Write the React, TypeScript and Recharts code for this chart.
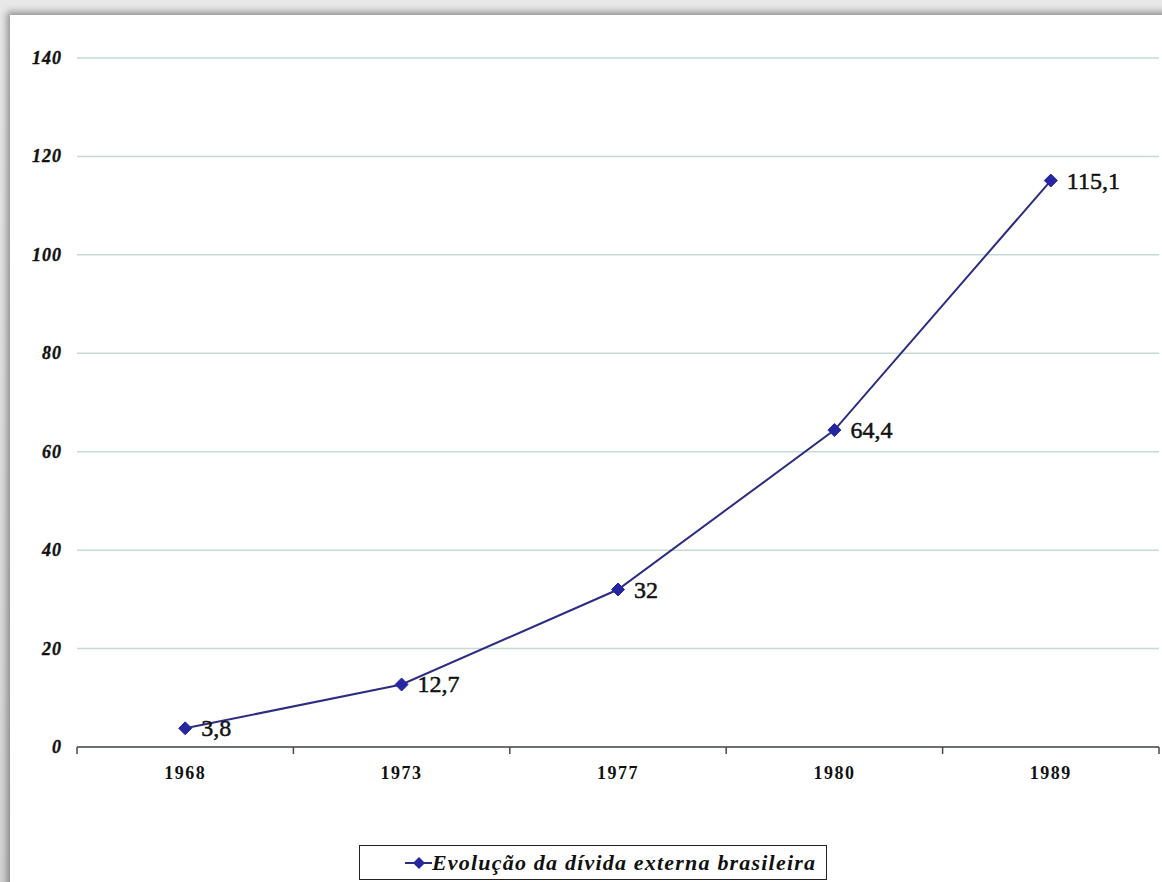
import React from 'react';
import { LineChart, Line, XAxis, YAxis, CartesianGrid, Legend, LabelList } from 'recharts';

// Brazilian external debt (US$ billions) by year
const years = ['1968', '1973', '1977', '1980', '1989'];
const debt = [3.8, 12.7, 32, 64.4, 115.1];
const yTicks = [0, 20, 40, 60, 80, 100, 120, 140];
const seriesName = 'Evolução da dívida externa brasileira';

const data = years.map((year, i) => ({ year, debt: debt[i] }));

const W = 1162;
const H = 882;
const MARGIN = { top: 58, right: 3, bottom: 75, left: 0 };
const Y_AXIS_W = 77;
const X_AXIS_H = 60;

const LINE_COLOR = '#2c2c82';
const MARKER_COLOR = '#2626a2';
const GRID_COLOR = '#c6dad6';
const AXIS_COLOR = '#4a4a4a';
const SERIF = 'Liberation Serif, "Times New Roman", Times, serif';

const bandWidth = (W - MARGIN.left - MARGIN.right - Y_AXIS_W) / years.length;

const fmt = (v: number) => String(v).replace('.', ',');

const Diamond = (props: any) => {
  const { cx, cy } = props;
  if (cx == null || cy == null) return null;
  const r = 6.5;
  return (
    <polygon
      points={`${cx},${cy - r} ${cx + r},${cy} ${cx},${cy + r} ${cx - r},${cy}`}
      fill={MARKER_COLOR}
      stroke={MARKER_COLOR}
      strokeWidth={1}
    />
  );
};

// Category ticks sit on the band boundaries, labels at the band centres
const XTick = (props: any) => {
  const { x, y, payload, index } = props;
  const half = bandWidth / 2;
  const axisY = y - 8;
  return (
    <g>
      <line x1={x - half} y1={axisY} x2={x - half} y2={axisY + 7} stroke={AXIS_COLOR} strokeWidth={1.5} />
      {index === years.length - 1 && (
        <line x1={x + half} y1={axisY} x2={x + half} y2={axisY + 7} stroke={AXIS_COLOR} strokeWidth={1.5} />
      )}
      <text
        x={x}
        y={axisY + 32}
        textAnchor="middle"
        style={{ fontFamily: SERIF, fontWeight: 'bold', fontSize: 18, letterSpacing: 1.5 }}
        fill="#111"
      >
        {payload.value}
      </text>
    </g>
  );
};

const YTick = (props: any) => {
  const { x, y, payload } = props;
  return (
    <text
      x={x}
      y={y}
      dy={6}
      textAnchor="end"
      style={{ fontFamily: SERIF, fontWeight: 'bold', fontStyle: 'italic', fontSize: 18, letterSpacing: 1 }}
      fill="#111"
      stroke="#111"
      strokeWidth={0.4}
    >
      {payload.value}
    </text>
  );
};

const ValueLabel = (props: any) => {
  const { x, y, value } = props;
  if (x == null || y == null) return null;
  return (
    <text
      x={x + 16}
      y={y}
      dy={8}
      style={{ fontFamily: SERIF, fontSize: 24 }}
      fill="#111"
      stroke="#111"
      strokeWidth={0.5}
    >
      {fmt(value)}
    </text>
  );
};

const LegendBox = () => (
  <div
    style={{
      width: 466,
      height: 33,
      border: '1px solid #222',
      background: '#fff',
      display: 'flex',
      alignItems: 'center',
      boxSizing: 'content-box',
    }}
  >
    <svg width={72} height={33} style={{ display: 'block' }}>
      <line x1={45} y1={17} x2={72} y2={17} stroke={LINE_COLOR} strokeWidth={2} />
      <polygon points="59,11 65,17 59,23 53,17" fill={MARKER_COLOR} />
    </svg>
    <span
      style={{
        fontFamily: SERIF,
        fontWeight: 'bold',
        fontStyle: 'italic',
        fontSize: 22,
        letterSpacing: 1.2,
        color: '#111',
        whiteSpace: 'nowrap',
      }}
    >
      {seriesName}
    </span>
  </div>
);

export default function App() {
  return (
    <div
      style={{
        position: 'absolute',
        left: 0,
        top: 0,
        width: W,
        height: H,
        background: 'linear-gradient(#e8e8e8, #d4d4d4)',
        overflow: 'hidden',
      }}
    >
      <div
        style={{
          position: 'absolute',
          left: 10,
          top: 15,
          width: W,
          height: H,
          background: '#fff',
          boxShadow: '-3px -3px 7px rgba(0,0,0,0.38)',
        }}
      />
      <div style={{ position: 'absolute', left: 0, top: 0 }}>
        <LineChart width={W} height={H} data={data} margin={MARGIN}>
          <CartesianGrid vertical={false} stroke={GRID_COLOR} strokeWidth={1.5} />
          <XAxis
            dataKey="year"
            height={X_AXIS_H}
            padding={{ left: bandWidth / 2, right: bandWidth / 2 }}
            axisLine={{ stroke: AXIS_COLOR, strokeWidth: 1.5 }}
            tickLine={false}
            tickSize={0}
            tickMargin={8}
            tick={<XTick />}
            interval={0}
          />
          <YAxis
            width={Y_AXIS_W}
            domain={[0, 140]}
            ticks={yTicks}
            axisLine={false}
            tickLine={false}
            tickSize={6}
            tickMargin={9}
            tick={<YTick />}
            interval={0}
          />
          <Legend
            layout="horizontal"
            align="center"
            verticalAlign="middle"
            wrapperStyle={{ position: 'absolute', left: 359, top: 845, width: 'auto' }}
            content={<LegendBox />}
          />
          <Line
            type="linear"
            dataKey="debt"
            name={seriesName}
            stroke={LINE_COLOR}
            strokeWidth={2}
            dot={<Diamond />}
            activeDot={false}
            isAnimationActive={false}
          >
            <LabelList dataKey="debt" content={<ValueLabel />} />
          </Line>
        </LineChart>
      </div>
    </div>
  );
}
